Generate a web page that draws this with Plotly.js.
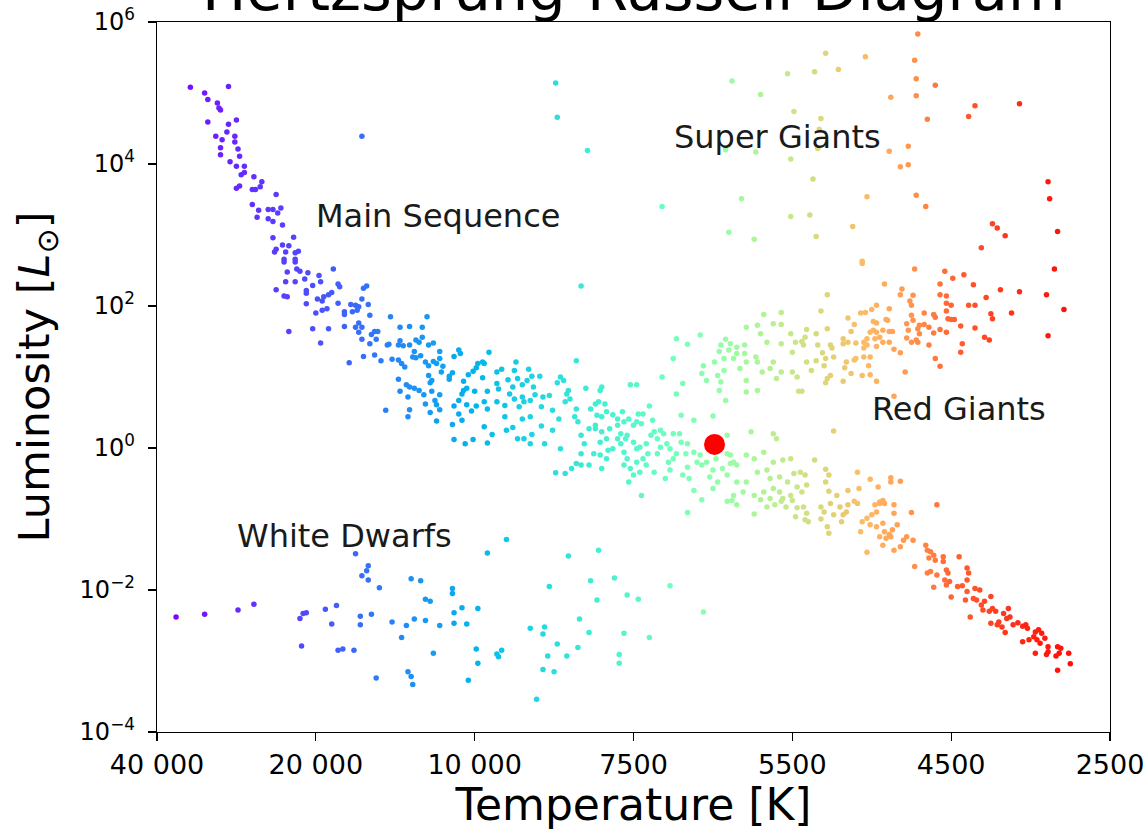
<!DOCTYPE html>
<html>
<head>
<meta charset="utf-8">
<script src="https://cdn.plot.ly/plotly-3.0.1.min.js"></script>
<style>html,body{margin:0;padding:0;background:#fff;}#chart{width:1146px;height:830px;}</style>
</head>
<body>
<div id="chart"></div>
<script>
// Temperature axis: evenly spaced tick positions labelled with temperatures (K)
const tempTickPos = [0, 1, 2, 3, 4, 5, 6];
const tempTickLabels = ['40 000', '20 000', '10 000', '7500', '5500', '4500', '2500'];
// Luminosity axis ticks (log10 of L / L_sun)
const lumTickExponents = [-4, -2, 0, 2, 4, 6];

// Stars: [temperature-scale position, log10(L / L_sun)]
const mainSequence = [
[0.21,5.08],[0.45,5.09],[0.30,5.00],[0.32,4.91],[0.38,4.86],[0.39,4.79],[0.40,4.76],[0.32,4.59],[0.45,4.56],[0.50,4.62],
[0.44,4.45],[0.37,4.39],[0.41,4.34],[0.49,4.39],[0.49,4.31],[0.40,4.23],[0.51,4.21],[0.40,4.13],[0.52,4.11],[0.46,4.03],
[0.50,3.97],[0.55,3.97],[0.55,3.88],[0.53,3.85],[0.61,3.82],[0.66,3.75],[0.65,3.68],[0.60,3.64],[0.62,3.64],[0.52,3.69],
[0.50,3.66],[0.75,3.57],[0.60,3.43],[0.64,3.35],[0.70,3.36],[0.73,3.36],[0.78,3.38],[0.76,3.31],[0.63,3.25],[0.70,3.23],
[0.73,3.19],[0.79,3.14],[0.73,2.96],[0.86,2.97],[0.79,2.86],[0.83,2.85],[0.75,2.80],[0.74,2.76],[0.81,2.76],[0.87,2.75],
[0.89,2.77],[0.80,2.66],[0.87,2.66],
[0.80,2.62],[0.87,2.62],[0.82,2.48],[0.88,2.52],[0.90,2.49],[0.95,2.47],[1.02,2.43],[1.11,2.52],[0.81,2.34],[0.87,2.34],
[0.93,2.38],[0.98,2.29],[0.94,2.22],[0.94,2.18],[1.03,2.34],[1.14,2.31],[1.15,2.27],[0.75,2.23],[0.80,2.14],[0.82,2.13],
[1.01,2.10],[1.05,2.13],[1.08,2.16],[1.10,2.19],[1.04,2.07],[0.94,2.03],[1.14,2.04],[1.32,2.28],[1.30,2.25],[1.29,2.10],
[1.22,2.02],[1.25,2.01],[1.27,1.99],[1.33,2.02],[1.18,1.92],[1.23,1.92],[1.26,1.94],[1.18,1.88],[1.00,1.90],[1.04,1.94],
[1.07,1.96],[1.34,1.87],[1.47,1.85],[1.70,1.85],[0.83,1.64],[0.98,1.68],[1.08,1.68],[1.18,1.71],[1.27,1.76],[1.25,1.70],
[1.29,1.70],[1.27,1.63],[1.37,1.64],[1.39,1.64],[1.35,1.60],[1.53,1.70],[1.59,1.71],[1.67,1.70],[1.03,1.48],[1.29,1.53],
[1.34,1.47],[1.38,1.53],[1.45,1.45],[1.46,1.46],[1.53,1.51],[1.52,1.45],[1.55,1.44],[1.59,1.45],[1.63,1.52],[1.65,1.49],
[1.67,1.56],[1.71,1.45],[1.74,1.48],[1.62,1.36],[1.61,1.28],[1.63,1.27],[1.66,1.30],[1.78,1.36],[1.90,1.38],[1.91,1.33],
[1.87,1.29],[1.21,1.20],[1.30,1.29],[1.37,1.31],[1.41,1.23],[1.48,1.25],[1.52,1.24],[1.54,1.19],[1.56,1.14],[1.69,1.21],
[1.71,1.16],[1.74,1.22],[1.76,1.19],[1.78,1.26],[1.80,1.15],[1.79,1.07],[1.84,1.01],[1.86,1.06],[1.71,1.02],[1.73,0.95],
[1.72,0.92],[1.52,0.97],[1.57,0.89],[1.59,0.86],[1.62,0.84],[1.65,0.81],[1.68,0.75],[1.53,0.80],[1.58,0.72],[1.73,0.80],
[1.78,0.75],[1.84,0.97],[1.93,0.94],[1.96,1.03],[1.99,1.08],[2.02,1.19],[2.01,1.13],[1.93,0.81],[1.95,0.84],[1.92,0.76],
[2.00,0.80],[1.90,0.67],[1.87,0.59],[1.95,0.61],[2.01,0.59],[1.75,0.67],[1.76,0.61],[1.78,0.54],[1.69,0.62],[1.72,0.50],
[1.59,0.54],[1.58,0.44],[1.44,0.53],[1.90,0.48],[1.98,0.52],[1.92,0.39],[1.76,0.38],[1.86,0.33],[1.87,0.12],[1.94,0.06],
[1.99,0.12],
[2.09,1.35],[2.05,1.21],[2.06,1.19],[2.14,1.07],[2.17,1.11],[2.25,1.09],[2.26,1.21],[2.34,1.11],[2.41,1.01],[2.05,0.99],
[2.14,0.91],[2.21,0.96],[2.27,0.98],[2.33,0.95],[2.36,1.01],[2.08,0.80],[2.15,0.83],[2.24,0.86],[2.30,0.89],[2.37,0.86],
[2.22,0.76],[2.25,0.69],[2.30,0.72],[2.06,0.65],[2.08,0.55],[2.14,0.65],[2.19,0.60],[2.28,0.58],[2.31,0.65],[2.35,0.67],
[2.38,0.75],[2.43,0.72],[2.47,0.74],[2.06,0.30],[2.11,0.19],[2.08,0.07],[2.20,0.25],[2.24,0.29],[2.27,0.13],[2.31,0.13],
[2.35,0.06],[2.36,0.19],[2.19,0.44],[2.30,0.41],[2.35,0.44],[2.42,0.58],[2.42,0.31],[2.44,0.06],[2.49,0.53],[2.49,0.25],
[2.53,0.41],[2.54,-0.01],[2.51,-0.35],[2.57,-0.36],[2.54,1.00],[2.56,0.95],[2.52,0.92],[2.59,0.81],[2.58,0.76],[2.60,0.69],
[2.57,0.65],[2.64,1.23],[2.64,0.55],[2.63,0.44],[2.65,0.37],[2.67,0.18],[2.69,0.06],[2.72,0.27],[2.67,-0.08],[2.64,-0.22],
[2.61,-0.29],[2.67,-0.24],[2.72,-0.24],[2.70,0.84],[2.80,0.86],[2.79,0.81],[2.73,0.55],[2.76,0.62],[2.78,0.65],[2.82,0.62],
[2.83,0.51],[2.77,0.46],[2.80,0.44],[2.76,0.32],[2.76,0.27],[2.80,0.23],[2.85,0.27],[2.83,0.13],[2.79,0.08],[2.84,-0.03],
[2.83,-0.15],[2.80,-0.29],[2.75,-0.08],[2.79,-0.10],[2.87,0.47],[2.90,0.41],[2.93,0.51],[2.94,0.37],[2.97,0.41],[2.90,0.32],
[2.92,0.20],[2.96,0.18],[3.00,0.32],[3.03,0.48],[3.06,0.48],[3.10,0.59],[3.02,0.37],[3.05,0.34],[2.98,0.89],[3.02,0.89],
[2.90,0.13],[2.92,0.06],[2.95,0.13],[2.87,-0.01],[2.94,-0.06],[2.96,-0.15],[3.02,-0.01],[3.00,0.08],[3.04,0.01],[3.08,0.06],
[3.11,0.18],[3.13,0.23],[3.17,0.25],[3.19,0.20],[3.15,0.13],[2.94,-0.24],[2.98,-0.29],[3.02,-0.20],[3.06,-0.15],[3.09,-0.08],
[3.08,-0.24],[3.04,-0.34],[3.00,-0.38],[2.97,-0.48],[3.05,-0.67],[3.13,-0.34],[3.15,-0.08],[3.17,0.01],[3.21,0.06],[3.22,-0.20],
[3.25,-0.15],[3.23,-0.31],[3.20,-0.43],[3.12,0.39],[3.30,0.46],[3.38,0.39],[3.50,0.45],[3.25,0.20],[3.29,0.20],[3.30,0.08],
[3.34,0.06],[3.23,-0.01],[3.27,-0.08],[3.33,-0.08],[3.38,-0.06],[3.42,-0.10],[3.40,-0.20],[3.34,-0.27],[3.31,-0.38],[3.35,-0.43],
[3.38,-0.60],[3.43,-0.24],[3.46,-0.20],[3.50,-0.31],[3.48,-0.41],[3.53,-0.48],[3.50,-0.57],[3.56,-0.29],[3.59,-0.38],[3.61,-0.22],
[3.63,-0.20],[3.65,-0.24],[3.52,-0.15],[3.59,-0.08],[3.61,-0.10],[3.59,0.18],[3.74,0.23],[3.88,0.20],[3.90,0.13],[3.71,-0.10],
[3.76,-0.15],[3.82,-0.06],[3.88,-0.20],[3.94,-0.17],[3.99,-0.15],[3.78,-0.34],[3.84,-0.31],[3.86,-0.43],[3.92,-0.41],[3.97,-0.48],
[4.01,-0.36],[3.88,-0.57],[3.82,-0.62],[3.71,-0.48],[3.65,-0.48],[3.69,-0.62],[3.63,-0.67],[3.76,-0.67],[3.92,-0.62],[3.99,-0.67],
[4.03,-0.55],[3.94,-0.71],[3.86,-0.71],
[3.34,-0.91],[3.43,-0.73],[3.59,-0.75],[3.62,-0.74],[3.65,-0.80],[3.76,-0.93],[3.80,-0.73],[3.84,-0.83],[3.89,-0.80],[3.93,-0.75],
[3.96,-0.83],[4.00,-0.74],[4.02,-0.97],[4.03,-0.84],
[4.05,-0.34],[4.08,-0.38],[4.09,-0.52],[4.06,-0.62],[4.21,-0.30],[4.23,-0.38],[4.21,-0.48],[4.23,-0.61],[4.28,-0.67],[4.35,-0.60],
[4.41,-0.34],[4.42,-0.57],[4.49,-0.44],[4.54,-0.55],[4.62,-0.48],[4.62,-0.42],[4.68,-0.47],[4.55,-0.76],[4.57,-0.74],[4.14,-0.17],
[4.07,-0.83],[4.09,-0.92],[4.08,-1.01],[4.10,-1.04],[4.18,-0.83],[4.20,-0.90],[4.18,-1.00],[4.24,-0.78],[4.22,-1.11],[4.23,-1.20],
[4.26,-0.94],[4.30,-0.83],[4.32,-0.94],[4.31,-1.04],[4.34,-0.90],[4.35,-0.80],[4.39,-0.75],[4.41,-0.78],[4.44,-1.04],[4.47,-0.99],
[4.50,-0.94],[4.53,-0.90],[4.49,-1.08],[4.53,-1.11],[4.57,-1.06],[4.58,-1.18],[4.61,-1.22],[4.62,-1.25],[4.63,-1.15],[4.64,-0.92],
[4.66,-1.08],[4.64,-0.80],[4.58,-0.78],[4.55,-0.78],[4.52,-0.80],[4.43,-1.18],[4.47,-1.47],[4.57,-1.37],[4.64,-1.44],[4.68,-1.39],
[4.70,-1.30],[4.72,-1.25],[4.76,-1.30],[4.75,-0.91],[4.91,-0.80],[4.55,-1.25],[4.59,-1.27],[4.77,-1.67],[4.84,-1.37],[4.85,-1.44],
[4.87,-1.46],[4.89,-1.51],[4.86,-1.55],[4.90,-1.58],[4.95,-1.53],[4.95,-1.60],[5.05,-1.53],[4.85,-1.76],[4.87,-1.74],[4.91,-1.79],
[4.97,-1.72],[4.98,-1.76],[4.96,-1.86],[4.99,-1.88],[4.97,-1.93],[5.04,-1.95],[5.07,-1.94],[5.10,-1.69],[5.11,-1.76],[5.10,-1.86],
[4.89,-1.96],[5.00,-2.10],[5.15,-1.98],[5.18,-2.00],[5.10,-2.02],[5.14,-2.12],[5.09,-2.14],[5.16,-2.14],[5.19,-2.21],[5.21,-2.16],
[5.25,-2.09],[5.20,-2.28],[5.24,-2.30],[5.26,-2.26],[5.28,-2.30],[5.12,-2.38],[5.33,-2.33],[5.36,-2.26],[5.37,-2.38],[5.35,-2.40],
[5.30,-2.45],[5.25,-2.47],[5.29,-2.49],[5.32,-2.52],[5.34,-2.60],[5.39,-2.49],[5.42,-2.46],[5.45,-2.51],[5.47,-2.49],[5.48,-2.54],
[5.45,-2.73],[5.49,-2.70],[5.52,-2.66],[5.53,-2.59],[5.55,-2.56],[5.57,-2.61],[5.54,-2.70],[5.56,-2.75],[5.59,-2.68],[5.61,-2.80],
[5.53,-2.89],[5.60,-2.91],[5.61,-2.87],[5.67,-2.80],[5.69,-2.82],[5.68,-2.89],[5.66,-2.93],[5.74,-2.89],[5.75,-3.04],[5.67,-3.13]
];

const giants = [
[3.18,1.00],[3.25,1.26],[3.27,1.54],[3.34,1.46],[3.31,0.91],[3.27,0.76],[3.42,1.59],[3.44,1.16],[3.43,1.05],[3.46,0.95],
[3.53,1.02],[3.57,1.09],[3.54,0.81],[3.58,0.67],[3.55,0.93],[3.51,1.21],[3.55,1.45],[3.58,1.53],[3.61,1.47],[3.65,1.42],
[3.54,1.36],[3.60,1.38],[3.57,1.26],[3.63,1.26],[3.71,1.70],[3.78,1.73],[3.82,1.88],[3.84,1.49],[3.80,1.61],[3.70,1.33],
[3.71,1.21],[3.77,1.28],[3.78,1.21],[3.81,1.07],[3.71,0.95],[3.78,0.81],[3.71,0.79],[3.67,1.12],[3.65,1.33],[3.70,1.45],
[3.88,1.75],[3.93,1.91],[3.93,1.74],[3.99,1.61],[4.02,1.49],[3.93,1.47],[4.00,1.35],[3.88,1.21],[3.93,1.07],[3.90,0.98],
[4.00,1.07],[4.03,1.00],[3.86,1.12],[4.04,0.80],
[4.44,2.60],[4.77,2.52],[4.96,2.49],[5.01,2.39],[5.08,2.44],[5.65,2.52],[4.58,2.31],[4.69,2.24],[4.68,2.16],[4.93,2.31],
[5.14,2.30],[5.31,2.23],[5.43,2.20],[5.60,2.16],[4.22,2.16],[4.76,2.15],[4.74,2.07],[4.75,2.01],[4.93,2.16],[4.97,2.14],
[4.97,2.04],[5.00,2.01],[5.11,2.01],[5.15,2.01],[5.22,2.12],[5.71,1.95],[5.38,1.90],[5.25,1.89],[5.26,1.82],[4.18,1.93],
[4.43,1.90],[4.46,1.91],[4.50,1.95],[4.53,2.01],[4.61,1.96],[4.35,1.83],[4.51,1.78],[4.53,1.76],[4.59,1.81],[4.60,1.80],
[4.39,1.74],[4.72,1.75],[4.75,1.87],[4.76,1.80],[4.83,1.90],[4.89,1.88],[4.90,1.84],[4.80,1.73],[4.83,1.74],[4.86,1.70],
[4.97,1.93],[4.98,1.82],[5.00,1.81],[5.02,1.81],[5.06,1.72],[5.15,1.69],[4.09,1.67],[4.15,1.61],[4.22,1.68],[4.08,1.56],
[4.06,1.50],[4.07,1.45],[4.37,1.64],[4.49,1.63],[4.51,1.66],[4.53,1.63],[4.57,1.66],[4.61,1.64],[4.63,1.64],[4.32,1.54],
[4.35,1.49],[4.32,1.47],[4.73,1.66],[4.79,1.68],[4.80,1.61],[4.78,1.52],[4.79,1.49],[4.72,1.55],[4.75,1.49],[4.86,1.45],
[4.89,1.62],[4.93,1.67],[4.97,1.63],[5.21,1.56],[5.24,1.52],[5.61,1.58],[5.07,1.47],[5.06,1.35],[4.40,1.48],[4.45,1.49],
[4.47,1.54],[4.52,1.54],[4.55,1.56],[4.57,1.49],[4.61,1.49],[4.45,1.41],[4.47,1.45],[4.53,1.43],[4.64,1.39],[4.68,1.34],
[4.16,1.45],[4.24,1.45],[4.25,1.41],[4.19,1.34],[4.21,1.26],[4.26,1.28],[4.09,1.21],[4.15,1.23],[4.12,1.09],[4.20,1.16],
[4.34,1.21],[4.39,1.24],[4.40,1.26],[4.45,1.28],[4.49,1.28],[4.33,1.13],[4.37,1.05],[4.44,1.02],[4.48,1.16],[4.49,1.03],
[4.53,0.94],[4.32,0.94],[4.22,0.98],[4.21,0.92],[4.24,1.02],[4.71,1.07],[4.90,1.26],[4.93,1.15],[4.64,0.73],[4.06,0.80],
[4.26,0.24],
[5.19,2.82],[4.44,2.63],[4.15,2.98],[4.11,3.28],[5.26,3.16],[5.29,3.10],[5.34,2.99],[5.67,3.05]
];

const superGiants = [
[2.51,5.14],[2.52,4.66],[2.71,4.19],[3.62,5.17],[3.80,4.98],[3.97,5.27],[4.01,4.74],[3.58,4.20],[3.77,4.17],[3.99,4.07],
[3.18,3.40],[3.68,3.51],[3.99,3.26],[3.60,3.04],[3.76,2.94],[4.79,5.83],[4.21,5.56],[4.46,5.51],[4.14,5.30],[4.29,5.33],
[4.77,5.46],[4.78,5.20],[4.90,5.11],[4.62,4.94],[4.78,4.96],[5.15,4.82],[5.11,4.67],[5.43,4.85],[4.85,4.63],[4.18,4.64],
[4.17,4.49],[4.16,4.22],[4.61,4.18],[4.73,4.25],[4.68,3.96],[4.73,3.99],[4.13,3.79],[5.61,3.75],[5.62,3.51],[4.47,3.54],
[4.78,3.56],[4.84,3.40],[4.38,3.12],[1.29,4.39],[2.67,2.28]
];

const whiteDwarfs = [
[0.12,-2.38],[0.30,-2.34],[0.51,-2.28],[0.61,-2.20],[0.90,-2.40],[0.92,-2.33],[0.94,-2.32],[1.06,-2.27],[1.13,-2.22],[1.10,-2.48],
[1.25,-1.49],[1.33,-1.66],[1.32,-1.73],[1.29,-1.80],[1.33,-1.86],[1.40,-1.97],[1.60,-1.84],[1.66,-1.87],[1.86,-1.98],[1.86,-2.05],
[1.69,-2.13],[1.72,-2.16],[1.28,-2.37],[1.28,-2.49],[1.35,-2.34],[1.48,-2.45],[1.57,-2.50],[1.62,-2.41],[1.69,-2.43],[1.54,-2.67],
[1.78,-2.50],[1.87,-2.47],[1.87,-2.32],[1.92,-2.25],[1.95,-2.48],[2.02,-2.26],[0.91,-2.79],[1.14,-2.85],[1.17,-2.83],[1.24,-2.85],
[1.74,-2.89],[2.01,-2.83],[2.02,-3.03],[1.38,-3.24],[1.58,-3.15],[1.60,-3.22],[1.61,-3.33],[1.96,-3.27],
[2.20,-1.29],[2.08,-1.48],[2.59,-1.52],[2.78,-1.44],[2.47,-1.95],[2.73,-1.87],[2.88,-1.83],[2.96,-2.07],[3.03,-2.13],[2.77,-2.14],
[3.23,-1.94],[3.44,-2.31],[2.66,-2.41],[2.35,-2.54],[2.44,-2.52],[2.43,-2.62],[2.72,-2.60],[2.94,-2.61],[3.10,-2.67],[2.52,-2.76],
[2.65,-2.81],[2.14,-2.90],[2.15,-2.94],[2.17,-2.85],[2.46,-2.93],[2.58,-2.93],[2.91,-2.91],[2.91,-3.03],[2.43,-3.12],[2.50,-3.15],
[2.39,-3.54]
];

const sun = [3.51, 0.05];

const regionLabels = ['Main Sequence', 'Super Giants', 'Red Giants', 'White Dwarfs'];
const regionLabelPos = [[0.99, 3.27], [3.24, 4.38], [4.49, 0.55], [0.49, -1.24]];

// ---- colour map (matplotlib "rainbow") placed along the temperature scale ----
function rainbow(c) {
  const r = Math.min(1, Math.abs(2 * c - 0.5));
  const g = Math.sin(Math.PI * c);
  const b = Math.cos(Math.PI * c / 2);
  const f = v => Math.round(255 * Math.max(0, Math.min(1, v)));
  return 'rgb(' + f(r) + ',' + f(g) + ',' + f(b) + ')';
}
const colourAnchors = [[0,0],[1,0.1],[2,0.25],[3,0.42],[4,0.64],[4.7,0.79],[5,0.87],[5.5,0.96],[6,1]];
function cAt(u) {
  for (let i = 1; i < colourAnchors.length; i++) {
    const a = colourAnchors[i - 1], b = colourAnchors[i];
    if (u <= b[0]) return a[1] + (b[1] - a[1]) * (u - a[0]) / (b[0] - a[0]);
  }
  return 1;
}
const colorscale = [];
for (let i = 0; i <= 60; i++) colorscale.push([i / 60, rainbow(cAt(i / 10))]);

const FONT = 'DejaVu Sans, Liberation Sans, sans-serif';

function starTrace(list, name) {
  const xs = list.map(p => p[0]);
  return {
    type: 'scatter', mode: 'markers', name: name,
    x: xs, y: list.map(p => Math.pow(10, p[1])),
    marker: { size: 5.5, color: xs, colorscale: colorscale, cmin: 0, cmax: 6, line: { width: 0 } },
    hoverinfo: 'skip'
  };
}

const traces = [
  starTrace(mainSequence, 'Main Sequence'),
  starTrace(giants, 'Giants'),
  starTrace(superGiants, 'Super Giants'),
  starTrace(whiteDwarfs, 'White Dwarfs'),
  { type: 'scatter', mode: 'markers', name: 'Sun', x: [sun[0]], y: [Math.pow(10, sun[1])],
    marker: { size: 21, color: 'rgb(255,0,0)', line: { width: 0 } }, hoverinfo: 'skip' }
];

const annotations = regionLabels.map((t, i) => ({
  text: t, x: regionLabelPos[i][0], y: regionLabelPos[i][1], xref: 'x', yref: 'y',
  xanchor: 'left', yanchor: 'middle', showarrow: false,
  font: { family: FONT, size: 32, color: '#1a1a1a' }
}));
annotations.push({
  text: 'Hertzsprung-Russell Diagram', x: 0.5, y: 1, xref: 'paper', yref: 'paper',
  xanchor: 'center', yanchor: 'bottom', yshift: -4, showarrow: false,
  font: { family: FONT, size: 59, color: '#000' }
});

const layout = {
  width: 1146, height: 830,
  margin: { l: 157, r: 36, t: 22, b: 98 },
  paper_bgcolor: '#fff', plot_bgcolor: '#fff',
  showlegend: false,
  font: { family: FONT, color: '#000' },
  xaxis: {
    range: [0, 6], tickmode: 'array', tickvals: tempTickPos, ticktext: tempTickLabels,
    ticks: 'outside', ticklen: 8, tickwidth: 1.3, tickcolor: '#000',
    showline: true, linecolor: '#000', linewidth: 1.3, mirror: true,
    showgrid: false, zeroline: false,
    tickfont: { family: FONT, size: 27, color: '#000' },
    title: { text: 'Temperature [K]', font: { family: FONT, size: 44, color: '#000' }, standoff: 8 },
    automargin: false
  },
  yaxis: {
    type: 'log', range: [-4, 6], tickmode: 'array',
    tickvals: lumTickExponents.map(e => Math.pow(10, e)),
    ticktext: lumTickExponents.map(e => '10<sup>' + (e < 0 ? '\u2212' + (-e) : e) + '</sup>'),
    ticks: 'outside', ticklen: 8, tickwidth: 1.3, tickcolor: '#000',
    showline: true, linecolor: '#000', linewidth: 1.3, mirror: true,
    showgrid: false, zeroline: false,
    tickfont: { family: FONT, size: 24, color: '#000' },
    ticklabelstandoff: 8,
    title: { text: 'Luminosity [<i>L</i><sub>\u2299</sub>]', font: { family: FONT, size: 43, color: '#000' }, standoff: 16 },
    automargin: false
  },
  annotations: annotations
};

Plotly.newPlot('chart', traces, layout, { staticPlot: true, displayModeBar: false });
</script>
</body>
</html>
